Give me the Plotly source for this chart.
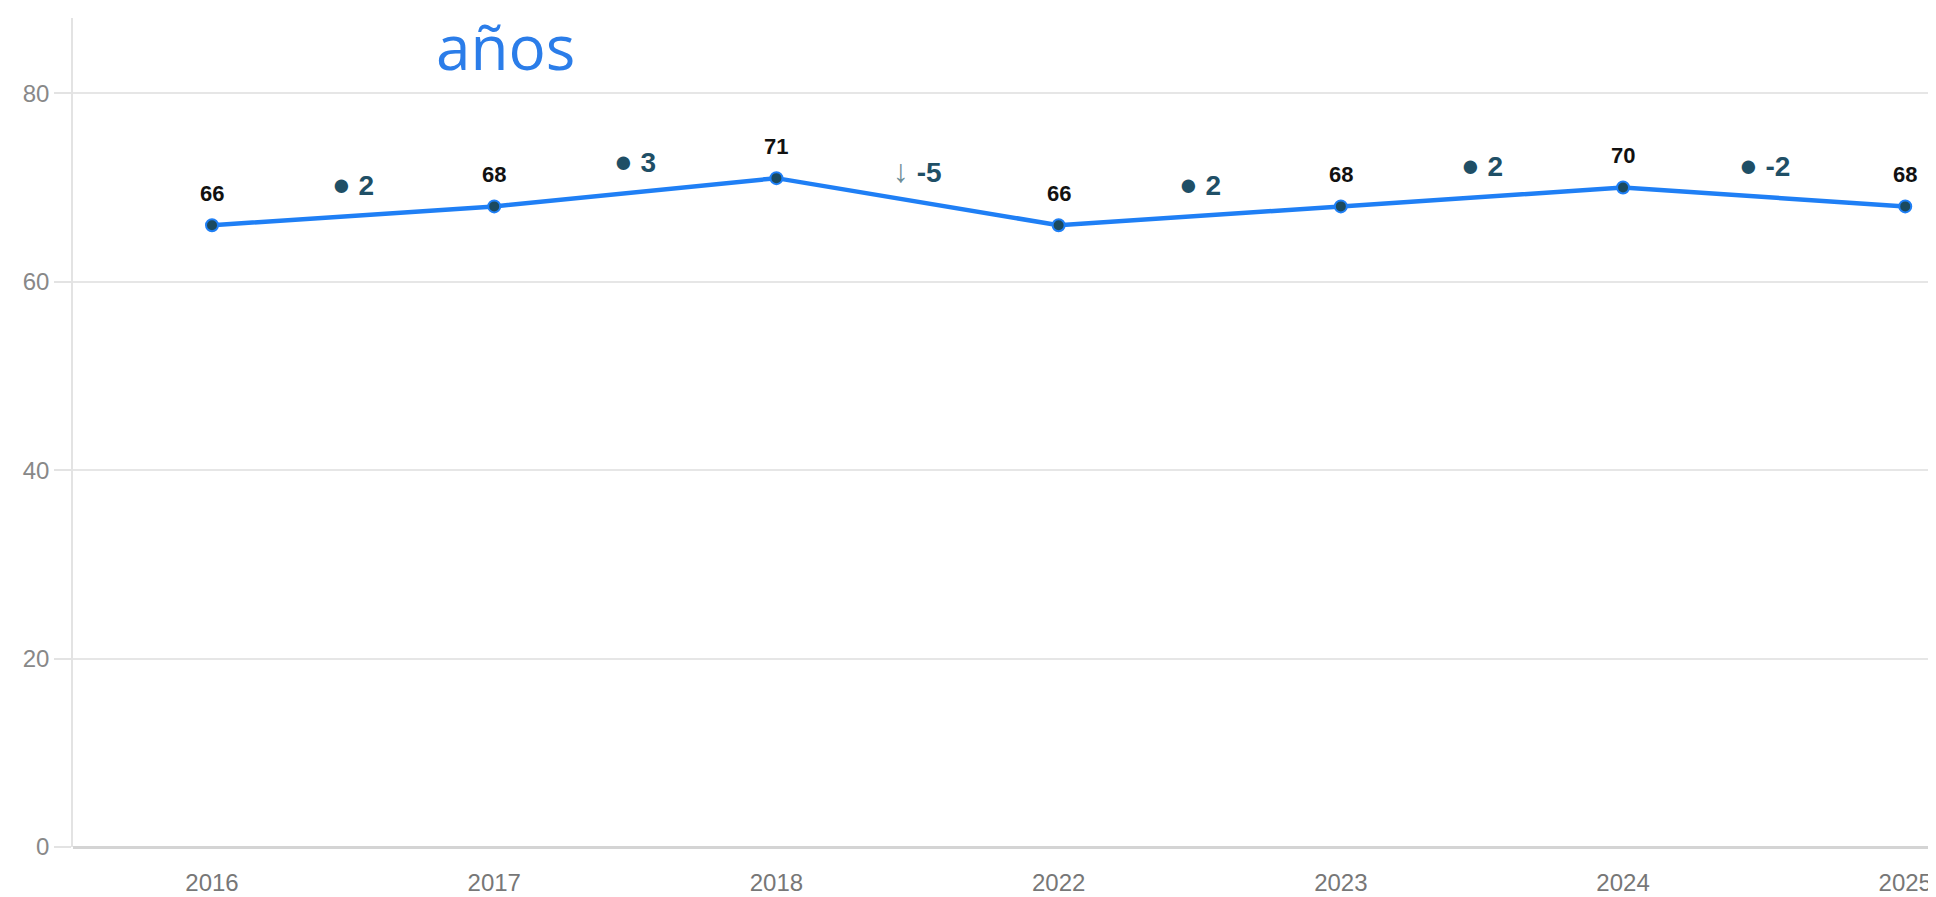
import plotly.graph_objects as go

# ---- data ----
years = ["2016", "2017", "2018", "2022", "2023", "2024", "2025"]
values = [66, 68, 71, 66, 68, 70, 68]
deltas = [2, 3, -5, 2, 2, -2]
y_ticks = [0, 20, 40, 60, 80]
title_text = "años"

LINE_BLUE = "#1f7ff5"
MARKER_DARK = "#1b4a5f"
DELTA_COL = "#1f4f66"
ARROW_COL = "#6f8e98"
TICK_FONT = "Liberation Sans, Arial, sans-serif"

fig = go.Figure()
fig.add_trace(go.Scatter(
    x=years, y=values, mode="lines+markers",
    line=dict(color=LINE_BLUE, width=4.5),
    marker=dict(size=12, color=MARKER_DARK, line=dict(color=LINE_BLUE, width=2)),
    hoverinfo="x+y", showlegend=False,
))

annotations = []
# value labels above points
for i, v in enumerate(values):
    annotations.append(dict(
        x=i, y=v, xref="x", yref="y", text=f"<b>{v}</b>", showarrow=False,
        yshift=32, yanchor="middle", xanchor="center",
        font=dict(family=TICK_FONT, size=22, color="#111111"),
    ))

# delta labels between points
for i, d in enumerate(deltas):
    mid = (values[i] + values[i + 1]) / 2
    if d < 0 and abs(d) >= 5:
        sym = f"<span style='color:{ARROW_COL};font-weight:normal;font-size:32px'>↓</span>"
    else:
        sym = "<span style='font-size:31px'>●</span>"
    annotations.append(dict(
        x=i + 0.5, y=mid, xref="x", yref="y",
        text=f"{sym} <b>{d}</b>", showarrow=False,
        yshift=31, yanchor="middle", xanchor="center",
        font=dict(family=TICK_FONT, size=28, color=DELTA_COL),
    ))

# title fragment
annotations.append(dict(
    x=0.2319, y=0.966, xref="paper", yref="paper", text=title_text,
    showarrow=False, xanchor="center", yanchor="middle",
    font=dict(family="Open Sans", size=62, color="#2b7de9"),
))

# the page body has an 8px default margin, so the figure is sized to fit
fig.update_layout(
    width=1928, height=889,
    margin=dict(l=65, r=0, t=10, b=50, autoexpand=False),
    paper_bgcolor="white", plot_bgcolor="white",
    annotations=annotations,
    xaxis=dict(
        type="category", range=[-0.4926, 6.109],
        showgrid=False, showline=False, zeroline=False,
        ticks="", tickfont=dict(family=TICK_FONT, size=24, color="#777777"),
        ticklabelstandoff=19,
    ),
    yaxis=dict(
        range=[0, 88], tickvals=y_ticks, ticktext=[str(t) for t in y_ticks],
        showgrid=True, gridcolor="#e6e6e6", gridwidth=1.5,
        showline=True, linecolor="#e3e3e3", linewidth=1.5,
        zeroline=True, zerolinecolor="#d4d4d4", zerolinewidth=2.5,
        ticks="outside", ticklen=17, tickcolor="#e3e3e3", tickwidth=1.5,
        tickfont=dict(family=TICK_FONT, size=24, color="#888888"),
    ),
)

fig.write_html("out.html")
